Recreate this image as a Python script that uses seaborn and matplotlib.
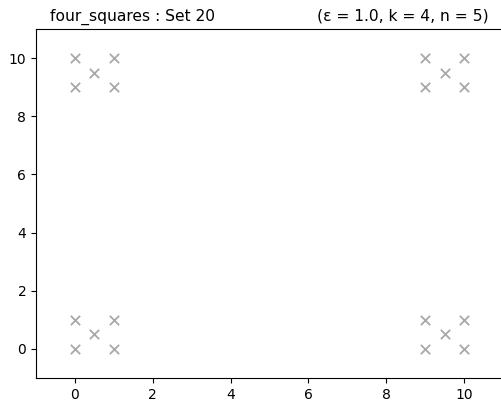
import numpy as np
import pandas as pd
import seaborn as sns
import matplotlib
matplotlib.use('Agg')
import matplotlib.pyplot as plt

# four squares, corners plus center
x_vals = [0, 1, 0, 1, 0.5, 9, 10, 9, 10, 9.5, 0, 1, 0, 1, 0.5, 9, 10, 9, 10, 9.5]
y_vals = [0, 0, 1, 1, 0.5, 0, 0, 1, 1, 0.5, 9, 9, 10, 10, 9.5, 9, 9, 10, 10, 9.5]
x_ticks = [0, 2, 4, 6, 8, 10]
y_ticks = [0, 2, 4, 6, 8, 10]

df = pd.DataFrame({'x': x_vals, 'y': y_vals})

sns.set_style('ticks', {'axes.edgecolor': 'black', 'xtick.color': 'black',
                        'ytick.color': 'black', 'text.color': 'black'})
fig = plt.figure(figsize=(5.02, 4.01), dpi=100)
ax = fig.add_axes([36 / 502, 1 - 378 / 401, 467 / 502, 349 / 401])

sns.scatterplot(data=df, x='x', y='y', marker='x', color='#a8a8a8', s=45,
                linewidth=1.3, ax=ax)

ax.set_xlim(-1, 11)
ax.set_ylim(-1, 11)
ax.set_xticks(x_ticks)
ax.set_yticks(y_ticks)
ax.set_xlabel('')
ax.set_ylabel('')
ax.spines['right'].set_visible(False)
ax.tick_params(labelcolor='black')
ax.text(0.03, 1.024, 'four_squares : Set 20', transform=ax.transAxes,
        ha='left', va='baseline', fontsize=11.2, color='black')
ax.text(0.97, 1.024, '(ε = 1.0, k = 4, n = 5)', transform=ax.transAxes,
        ha='right', va='baseline', fontsize=11.2, color='black')

fig.savefig('out.png', dpi=100)
